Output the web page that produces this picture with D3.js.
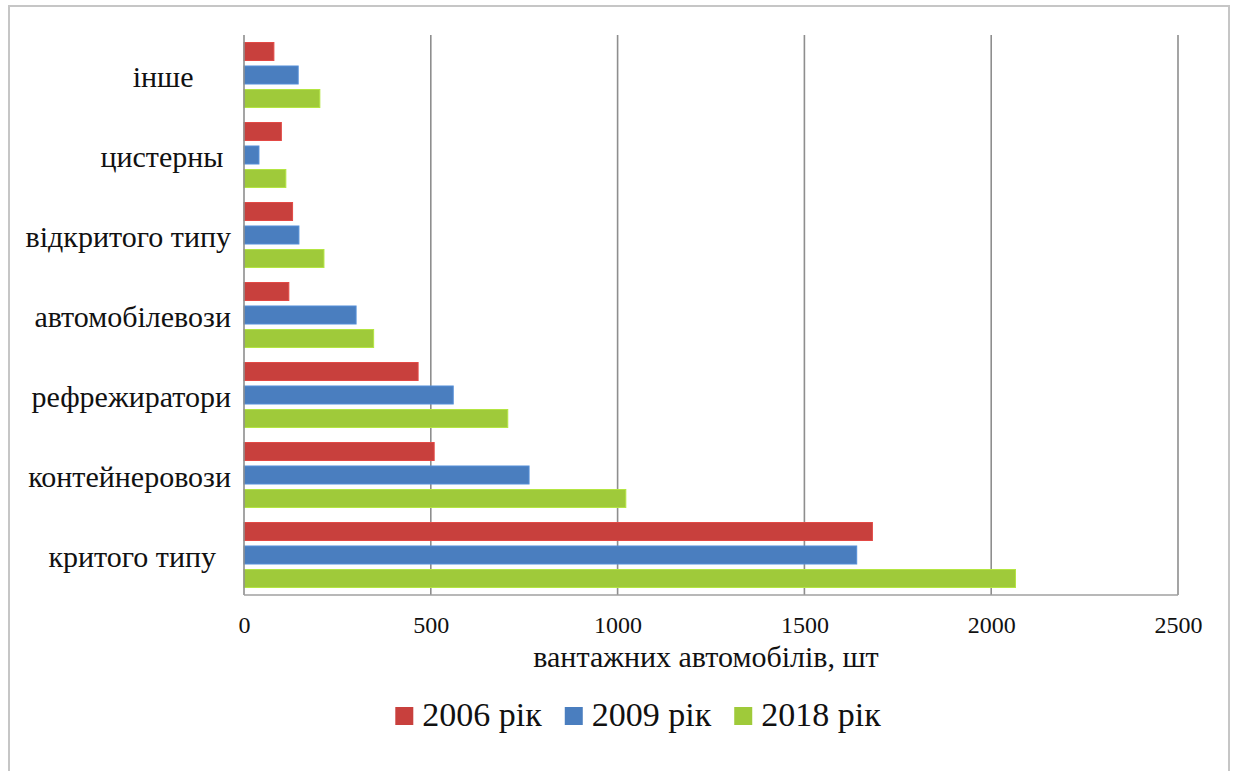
<!DOCTYPE html>
<html>
<head>
<meta charset="utf-8">
<script src="https://cdn.jsdelivr.net/npm/d3@7"></script>
<style>
  html, body { margin: 0; padding: 0; background: #fff; }
  svg { display: block; }
</style>
</head>
<body>
<svg id="chart" width="1234" height="771"></svg>
<script>
// Vehicle types (top to bottom) and truck counts per year
const categories = ["інше     ", "цистерны ", "відкритого типу", "автомобілевози", "рефрежиратори", "контейнеровози", "критого типу  "];
const seriesNames = ["2006 рік", "2009 рік", "2018 рік"];
const values2006 = [80, 100, 130, 120, 466, 509, 1682];
const values2009 = [145, 40, 147, 300, 560, 763, 1640];
const values2018 = [203, 112, 214, 347, 706, 1022, 2065];
const xTicks = [0, 500, 1000, 1500, 2000, 2500];
const axisTitle = "вантажних автомобілів, шт";
const colors = ["#c8403d", "#4a7ebf", "#9fca3a"];

const FONT = '"Liberation Serif", "Times New Roman", serif';
const INK = "#111";

const seriesValues = [values2006, values2009, values2018];
const rows = categories.map((c, i) => ({
  category: c,
  bars: seriesNames.map((s, j) => ({ series: s, value: seriesValues[j][i], color: colors[j] }))
}));

const svg = d3.select("#chart");
const plot = { left: 244, right: 1178, top: 35, bottom: 595 };

// outer frame
svg.append("rect")
  .attr("x", 9).attr("y", 6).attr("width", 1220).attr("height", 800)
  .attr("fill", "#fff").attr("stroke", "#c6c6c6").attr("stroke-width", 2);

const x = d3.scaleLinear().domain([0, 2500]).range([plot.left, plot.right]);
const y = d3.scaleBand().domain(categories).range([plot.top, plot.bottom])
  .paddingInner(0.1875).paddingOuter(0.09375);
const ySub = d3.scaleBand().domain(seriesNames).range([0, y.bandwidth()]).paddingInner(0.234);

// vertical gridlines
svg.append("g")
  .selectAll("line")
  .data(xTicks.filter(t => t > 0))
  .join("line")
  .attr("x1", d => x(d)).attr("x2", d => x(d))
  .attr("y1", plot.top).attr("y2", plot.bottom)
  .attr("stroke", "#8e8e8e").attr("stroke-width", 1.6);

// bars
const groups = svg.append("g")
  .selectAll("g")
  .data(rows)
  .join("g")
  .attr("transform", d => `translate(0,${y(d.category)})`);

groups.selectAll("rect")
  .data(d => d.bars)
  .join("rect")
  .attr("x", x(0))
  .attr("y", d => ySub(d.series))
  .attr("width", d => x(d.value) - x(0))
  .attr("height", ySub.bandwidth())
  .attr("fill", d => d.color)
  .attr("stroke", d => d3.color(d.color).brighter(0.35))
  .attr("stroke-width", 1);

// axis lines
svg.append("line")
  .attr("x1", plot.left).attr("x2", plot.left)
  .attr("y1", plot.top).attr("y2", plot.bottom)
  .attr("stroke", "#8e8e8e").attr("stroke-width", 1.6);
svg.append("line")
  .attr("x1", plot.left).attr("x2", plot.right)
  .attr("y1", plot.bottom).attr("y2", plot.bottom)
  .attr("stroke", "#a0a0a0").attr("stroke-width", 1.6);

// x axis tick labels
const xAxis = d3.axisBottom(x).tickValues(xTicks).tickSize(0).tickPadding(0).tickFormat(d3.format("d"));
const gx = svg.append("g").attr("transform", `translate(0,${plot.bottom})`).call(xAxis);
gx.attr("font-family", null).attr("font-size", null);
gx.select(".domain").remove();
gx.selectAll("text")
  .attr("y", 38).attr("dy", null)
  .style("font-family", FONT)
  .style("font-size", "24px").style("fill", INK);

// category labels
svg.append("g")
  .selectAll("text")
  .data(categories)
  .join("text")
  .attr("x", 231)
  .attr("y", d => y(d) + y.bandwidth() / 2 + 12)
  .attr("text-anchor", "end")
  .style("font-family", FONT)
  .style("white-space", "pre")
  .style("font-size", "30px")
  .style("fill", INK)
  .text(d => d);

// axis title
svg.append("text")
  .attr("x", (plot.left + plot.right) / 2 - 5)
  .attr("y", 667)
  .attr("text-anchor", "middle")
  .style("font-family", FONT)
  .style("font-size", "30px")
  .style("fill", INK)
  .text(axisTitle);

// legend
const legend = svg.append("g");
const items = legend.selectAll("g").data(seriesNames).join("g");
items.append("rect").attr("width", 18).attr("height", 18).attr("y", 707)
  .attr("fill", (d, i) => colors[i]);
items.append("text").attr("y", 726)
  .style("font-family", FONT)
  .style("font-size", "34px")
  .style("fill", INK)
  .text(d => d);
const widths = [];
items.each(function () {
  widths.push(d3.select(this).select("text").node().getComputedTextLength());
});
const total = d3.sum(widths) + seriesNames.length * 27 + (seriesNames.length - 1) * 23;
let cursor = 638 - total / 2;
items.each(function (d, i) {
  const g = d3.select(this);
  g.select("rect").attr("x", cursor);
  g.select("text").attr("x", cursor + 27);
  cursor += 27 + widths[i] + 23;
});
</script>
</body>
</html>
